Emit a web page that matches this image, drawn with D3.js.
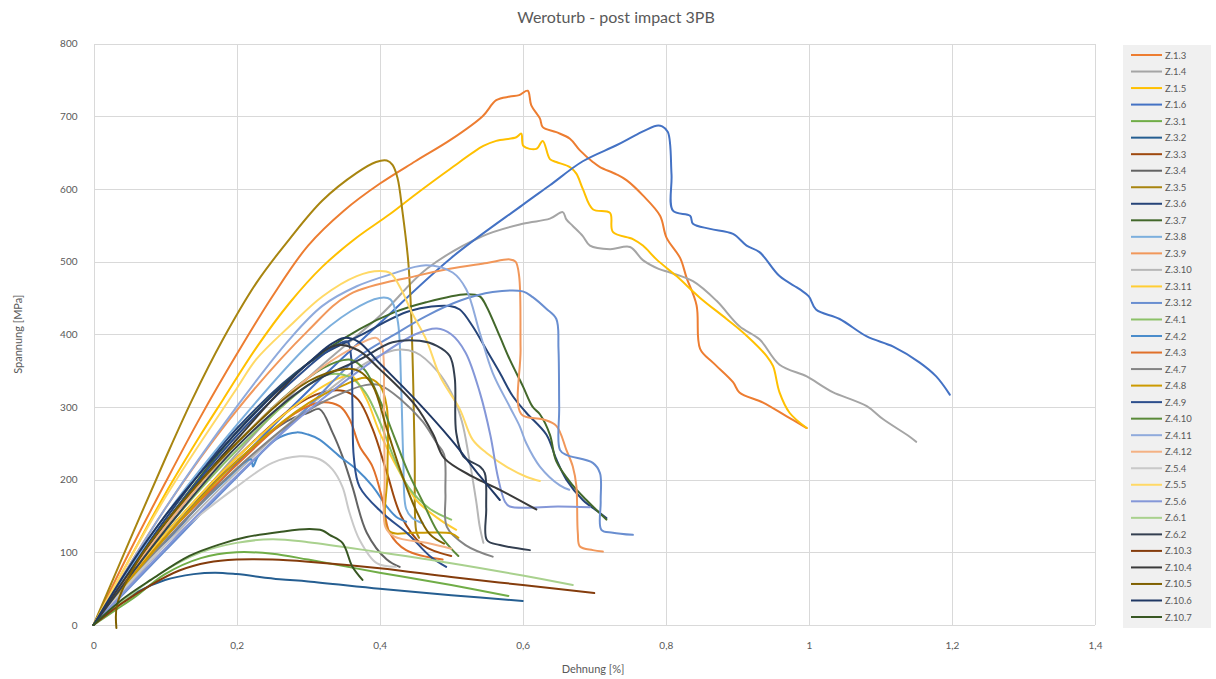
<!DOCTYPE html>
<html>
<head>
<meta charset="utf-8">
<script src="https://cdn.jsdelivr.net/npm/d3@7"></script>
<style>
  html, body { margin: 0; padding: 0; background: #fff; }
  svg { display: block; font-family: Lato, "Open Sans", "Liberation Sans", sans-serif; }
</style>
</head>
<body>
<svg id="chart" width="1216" height="679"></svg>
<script>
// Specimen names (legend order) and their line colours
const seriesNames = ["Z.1.3","Z.1.4","Z.1.5","Z.1.6","Z.3.1","Z.3.2","Z.3.3","Z.3.4","Z.3.5","Z.3.6",
  "Z.3.7","Z.3.8","Z.3.9","Z.3.10","Z.3.11","Z.3.12","Z.4.1","Z.4.2","Z.4.3","Z.4.7","Z.4.8","Z.4.9",
  "Z.4.10","Z.4.11","Z.4.12","Z.5.4","Z.5.5","Z.5.6","Z.6.1","Z.6.2","Z.10.3","Z.10.4","Z.10.5","Z.10.6","Z.10.7"];
const seriesColors = ["#ED7D31","#A5A5A5","#FFC000","#4472C4","#70AD47","#255E91","#9E480E","#636363","#A88510","#264478",
  "#43682B","#7CAFDD","#F1975A","#B7B7B7","#FFCD33","#698ED0","#8CC168","#4A8CCB","#E0702A","#848484","#CC9A00","#2C4E8C",
  "#5A8A39","#8FAADC","#F4B183","#C9C9C9","#FFD966","#8497D8","#A9D18E","#333F50","#843C0C","#3A3A3A","#7F6000","#203864","#385723"];

// Axis ticks
const xTicks = [0, 0.2, 0.4, 0.6, 0.8, 1, 1.2, 1.4];
const yTicks = [0, 100, 200, 300, 400, 500, 600, 700, 800];

// Stress–strain curves: [Dehnung %, Spannung MPa]
const z1_3 = [[0,0],[0.05,100],[0.1,195],[0.15,287],[0.2,372],[0.25,452],[0.3,522],[0.35,570],[0.4,607],[0.45,638],[0.5,668],[0.544,700],[0.563,722],[0.582,727],[0.595,729],[0.607,735],[0.612,715],[0.624,697],[0.628,685],[0.647,678],[0.666,669],[0.68,653],[0.698,637],[0.708,630],[0.731,620],[0.745,612],[0.768,591],[0.792,563],[0.801,533],[0.82,505],[0.829,478],[0.843,440],[0.848,380],[0.866,361],[0.894,334],[0.903,320],[0.936,306],[0.969,287],[0.997,271]];
const z1_4 = [[0,0],[0.1,120],[0.2,235],[0.3,340],[0.4,425],[0.466,490],[0.544,535],[0.6,552],[0.638,559],[0.656,568],[0.661,558],[0.67,549],[0.684,535],[0.694,522],[0.722,517],[0.75,520],[0.768,502],[0.79,490],[0.806,485],[0.838,473],[0.871,446],[0.903,411],[0.931,393],[0.959,358],[0.997,342],[1.02,328],[1.034,320],[1.081,301],[1.104,283],[1.141,259],[1.15,252]];
const z1_5 = [[0,0],[0.05,90],[0.1,180],[0.15,262],[0.181,310],[0.228,382],[0.274,443],[0.32,493],[0.368,533],[0.414,565],[0.451,593],[0.498,627],[0.545,659],[0.563,666],[0.591,671],[0.598,676],[0.601,659],[0.619,655],[0.628,666],[0.638,641],[0.647,637],[0.666,630],[0.675,621],[0.684,600],[0.698,572],[0.722,567],[0.726,541],[0.754,531],[0.768,522],[0.787,503],[0.815,480],[0.848,450],[0.885,421],[0.913,398],[0.941,370],[0.95,356],[0.959,320],[0.973,292],[0.997,271]];
const z1_6 = [[0,0],[0.1,112],[0.2,222],[0.3,322],[0.4,415],[0.5,505],[0.6,578],[0.638,605],[0.684,638],[0.731,660],[0.76,675],[0.787,687],[0.795,686],[0.803,678],[0.808,620],[0.81,570],[0.834,563],[0.838,552],[0.862,545],[0.894,538],[0.913,522],[0.931,513],[0.959,480],[0.987,462],[1.0,452],[1.01,434],[1.043,421],[1.081,397],[1.118,383],[1.155,361],[1.178,342],[1.197,317]];
const z3_1 = [[0,0],[0.03,20],[0.06,40],[0.1,70],[0.15,92],[0.2,100],[0.25,98],[0.3,90],[0.4,72],[0.5,55],[0.58,40]];
const z3_2 = [[0,0],[0.03,25],[0.06,45],[0.1,62],[0.14,70],[0.17,72],[0.2,70],[0.26,63],[0.3,60],[0.4,50],[0.5,41],[0.6,33]];
const z3_3 = [[0,0],[0.1,125],[0.2,230],[0.28,300],[0.32,320],[0.35,322],[0.37,310],[0.39,270],[0.41,210],[0.43,150],[0.46,110],[0.5,95]];
const z3_4 = [[0,0],[0.1,125],[0.2,225],[0.27,280],[0.3,292],[0.316,297],[0.334,265],[0.348,232],[0.362,190],[0.382,127],[0.41,90],[0.428,80]];
const z3_5 = [[0,0],[0.05,115],[0.1,228],[0.138,310],[0.181,393],[0.228,471],[0.274,531],[0.32,584],[0.368,622],[0.395,637],[0.41,639],[0.418,633],[0.425,615],[0.432,568],[0.44,500],[0.444,430],[0.447,330],[0.449,230],[0.451,130],[0.455,120]];
const z3_6 = [[0,0],[0.1,145],[0.2,270],[0.3,360],[0.372,398],[0.442,432],[0.498,439],[0.512,434],[0.53,411],[0.549,379],[0.568,347],[0.586,315],[0.605,292],[0.633,262],[0.647,228],[0.661,200],[0.684,172],[0.708,154],[0.717,147]];
const z3_7 = [[0,0],[0.1,140],[0.2,265],[0.3,360],[0.372,407],[0.42,430],[0.465,444],[0.521,455],[0.54,452],[0.549,439],[0.568,397],[0.582,365],[0.6,329],[0.614,300],[0.624,290],[0.638,262],[0.647,225],[0.67,192],[0.689,172],[0.717,145]];
const z3_8 = [[0,0],[0.1,150],[0.2,275],[0.3,385],[0.36,432],[0.4,450],[0.415,448],[0.425,420],[0.43,330],[0.433,230],[0.437,160],[0.445,148],[0.46,140]];
const z3_9 = [[0,0],[0.1,160],[0.2,295],[0.3,405],[0.358,455],[0.45,480],[0.498,490],[0.55,498],[0.582,503],[0.59,500],[0.595,480],[0.597,380],[0.598,290],[0.628,283],[0.647,274],[0.661,241],[0.67,218],[0.675,191],[0.677,127],[0.68,108],[0.698,103],[0.712,101]];
const z3_10 = [[0,0],[0.1,110],[0.2,210],[0.3,300],[0.38,360],[0.42,378],[0.45,375],[0.48,350],[0.5,320],[0.515,280],[0.525,230],[0.535,170],[0.54,135],[0.545,113]];
const z3_11 = [[0,0],[0.1,125],[0.2,230],[0.3,315],[0.35,342],[0.362,342],[0.382,310],[0.4,265],[0.428,210],[0.451,172],[0.484,145],[0.507,131]];
const z3_12 = [[0,0],[0.1,102],[0.2,203],[0.3,300],[0.372,370],[0.418,398],[0.465,425],[0.512,446],[0.558,458],[0.6,459],[0.614,451],[0.633,435],[0.647,421],[0.65,380],[0.651,300],[0.652,241],[0.661,234],[0.698,223],[0.708,209],[0.709,170],[0.71,131],[0.726,127],[0.754,124]];
const z4_1 = [[0,0],[0.1,130],[0.2,240],[0.3,330],[0.33,345],[0.36,340],[0.38,320],[0.4,280],[0.42,230],[0.44,190],[0.47,160],[0.5,145]];
const z4_2 = [[0,0],[0.1,115],[0.18,195],[0.22,228],[0.223,218],[0.23,232],[0.26,258],[0.284,265],[0.3,262],[0.316,255],[0.344,232],[0.368,214],[0.39,191],[0.41,163],[0.423,149],[0.437,142]];
const z4_3 = [[0,0],[0.1,120],[0.2,220],[0.28,290],[0.316,306],[0.344,301],[0.358,283],[0.372,246],[0.39,218],[0.404,172],[0.414,127],[0.437,103],[0.488,90]];
const z4_7 = [[0,0],[0.1,115],[0.2,215],[0.3,295],[0.35,320],[0.38,330],[0.4,330],[0.43,310],[0.46,280],[0.48,250],[0.49,235],[0.492,180],[0.494,135],[0.52,110],[0.558,94]];
const z4_8 = [[0,0],[0.1,120],[0.2,225],[0.3,305],[0.35,330],[0.38,340],[0.4,330],[0.41,300],[0.411,210],[0.412,130],[0.45,127],[0.5,126],[0.51,120]];
const z4_9 = [[0,0],[0.1,140],[0.2,260],[0.3,355],[0.34,385],[0.355,390],[0.36,370],[0.362,300],[0.364,230],[0.372,190],[0.404,154],[0.44,125],[0.47,95],[0.493,80]];
const z4_10 = [[0,0],[0.1,135],[0.2,250],[0.3,340],[0.34,362],[0.36,365],[0.38,350],[0.4,310],[0.42,260],[0.44,210],[0.46,170],[0.48,130],[0.5,105],[0.51,95]];
const z4_11 = [[0,0],[0.1,160],[0.2,300],[0.274,393],[0.32,439],[0.368,466],[0.414,482],[0.465,495],[0.502,485],[0.521,462],[0.54,402],[0.558,347],[0.582,300],[0.596,273],[0.605,250],[0.624,218],[0.652,192],[0.665,186]];
const z4_12 = [[0,0],[0.1,135],[0.2,250],[0.3,340],[0.36,380],[0.395,395],[0.403,385],[0.406,300],[0.407,200],[0.408,135],[0.42,122],[0.47,112],[0.5,105]];
const z5_4 = [[0,0],[0.1,110],[0.2,190],[0.25,223],[0.288,232],[0.316,228],[0.334,214],[0.348,190],[0.358,154],[0.372,117],[0.396,85],[0.423,80]];
const z5_5 = [[0,0],[0.1,175],[0.2,325],[0.228,366],[0.274,411],[0.32,452],[0.368,480],[0.4,487],[0.415,484],[0.43,462],[0.445,430],[0.465,393],[0.485,341],[0.512,297],[0.53,255],[0.549,237],[0.577,218],[0.605,204],[0.624,198]];
const z5_6 = [[0,0],[0.1,105],[0.2,205],[0.3,295],[0.4,370],[0.45,400],[0.48,408],[0.5,400],[0.52,375],[0.54,320],[0.555,260],[0.565,205],[0.575,170],[0.582,163],[0.65,163],[0.694,162]];
const z6_1 = [[0,0],[0.05,40],[0.1,75],[0.15,100],[0.2,113],[0.25,118],[0.3,114],[0.4,100],[0.5,85],[0.6,68],[0.67,55]];
const z6_2 = [[0,0],[0.1,130],[0.2,245],[0.3,330],[0.372,365],[0.418,389],[0.456,391],[0.48,384],[0.498,370],[0.505,340],[0.507,265],[0.517,232],[0.54,218],[0.547,209],[0.549,160],[0.55,117],[0.568,110],[0.61,103]];
const z10_3 = [[0,0],[0.04,30],[0.08,55],[0.12,75],[0.16,86],[0.2,90],[0.25,90],[0.3,87],[0.4,78],[0.5,66],[0.6,55],[0.7,44]];
const z10_4 = [[0,0],[0.1,140],[0.2,255],[0.3,360],[0.34,385],[0.37,378],[0.4,352],[0.45,302],[0.475,262],[0.49,230],[0.53,204],[0.568,186],[0.619,159]];
const z10_5 = [[0.032,-4],[0.033,28],[0.06,85],[0.1,140],[0.2,250],[0.3,335],[0.35,352],[0.37,350],[0.39,330],[0.41,270],[0.43,210],[0.45,160],[0.47,125],[0.49,112]];
const z10_6 = [[0,0],[0.05,80],[0.1,150],[0.15,210],[0.2,265],[0.26,325],[0.3,360],[0.33,385],[0.35,395],[0.37,390],[0.4,360],[0.45,310],[0.5,255],[0.54,205],[0.568,172]];
const z10_7 = [[0,0],[0.04,35],[0.08,62],[0.134,95],[0.18,112],[0.214,121],[0.26,128],[0.302,132],[0.32,130],[0.33,124],[0.348,113],[0.362,80],[0.376,62]];

const seriesData = [z1_3, z1_4, z1_5, z1_6, z3_1, z3_2, z3_3, z3_4, z3_5, z3_6, z3_7, z3_8, z3_9, z3_10, z3_11, z3_12,
  z4_1, z4_2, z4_3, z4_7, z4_8, z4_9, z4_10, z4_11, z4_12, z5_4, z5_5, z5_6, z6_1, z6_2, z10_3, z10_4, z10_5, z10_6, z10_7];

const svg = d3.select("#chart");
const plot = { left: 93.5, right: 1095, top: 43.5, bottom: 625 };

const x = d3.scaleLinear().domain([0, 1.4]).range([plot.left, plot.right]);
const y = d3.scaleLinear().domain([0, 800]).range([plot.bottom, plot.top]);
const fmt = d => String(d).replace(".", ",");
const textColor = "#595959";

// Title
svg.append("text")
  .attr("x", 616).attr("y", 23)
  .attr("text-anchor", "middle")
  .attr("font-size", 16).attr("fill", textColor)
  .text("Weroturb - post impact 3PB");

// Grid
const grid = svg.append("g").attr("stroke", "#D9D9D9").attr("stroke-width", 1).attr("shape-rendering", "crispEdges");
grid.selectAll(".gy").data(yTicks).join("line")
  .attr("x1", plot.left).attr("x2", plot.right)
  .attr("y1", d => Math.round(y(d)) + 0.5).attr("y2", d => Math.round(y(d)) + 0.5);
grid.selectAll(".gx").data(xTicks).join("line")
  .attr("y1", plot.top).attr("y2", plot.bottom)
  .attr("x1", d => Math.round(x(d)) + 0.5).attr("x2", d => Math.round(x(d)) + 0.5);

// Axes (labels only, Excel style)
const xAxis = svg.append("g")
  .attr("transform", `translate(0,${plot.bottom + 14})`)
  .call(d3.axisBottom(x).tickValues(xTicks).tickFormat(fmt).tickSize(0));
xAxis.select(".domain").remove();
xAxis.selectAll("text").attr("font-size", 10).attr("fill", textColor)
  .attr("font-family", "Lato, 'Open Sans', sans-serif");

const yAxis = svg.append("g")
  .attr("transform", `translate(${plot.left - 13},0)`)
  .call(d3.axisLeft(y).tickValues(yTicks).tickFormat(d3.format("d")).tickSize(0));
yAxis.select(".domain").remove();
yAxis.selectAll("text").attr("font-size", 10).attr("fill", textColor)
  .attr("font-family", "Lato, 'Open Sans', sans-serif");

// Axis titles
svg.append("text")
  .attr("x", 593).attr("y", 673)
  .attr("text-anchor", "middle").attr("font-size", 11).attr("fill", textColor)
  .text("Dehnung [%]");
svg.append("text")
  .attr("transform", `translate(22,${(plot.top + plot.bottom) / 2}) rotate(-90)`)
  .attr("text-anchor", "middle").attr("font-size", 11).attr("fill", textColor)
  .text("Spannung [MPa]");

// Curves
const line = d3.line()
  .x(d => x(d[0]))
  .y(d => y(d[1]))
  .curve(d3.curveCatmullRom.alpha(0.5));

svg.append("defs").append("clipPath").attr("id", "plotClip")
  .append("rect").attr("x", plot.left - 2).attr("y", plot.top - 2)
  .attr("width", plot.right - plot.left + 4).attr("height", plot.bottom - plot.top + 6);

svg.append("g").attr("clip-path", "url(#plotClip)")
  .selectAll("path").data(seriesData).join("path")
  .attr("d", line)
  .attr("fill", "none")
  .attr("stroke", (d, i) => seriesColors[i])
  .attr("stroke-width", 2)
  .attr("stroke-linejoin", "round")
  .attr("stroke-linecap", "round");

// Legend
const legend = { left: 1123, top: 45, width: 88, height: 583, row0: 55, step: 16.53 };
svg.append("rect")
  .attr("x", legend.left).attr("y", legend.top)
  .attr("width", legend.width).attr("height", legend.height)
  .attr("fill", "#F0F0F0");
const items = svg.append("g").selectAll("g").data(seriesNames).join("g")
  .attr("transform", (d, i) => `translate(0,${legend.row0 + i * legend.step})`);
items.append("line")
  .attr("x1", 1131).attr("x2", 1162).attr("y1", 0).attr("y2", 0)
  .attr("stroke", (d, i) => seriesColors[i]).attr("stroke-width", 2);
items.append("text")
  .attr("x", 1165).attr("y", 3.5)
  .attr("font-size", 9.5).attr("fill", textColor)
  .text(d => d);
</script>
</body>
</html>
